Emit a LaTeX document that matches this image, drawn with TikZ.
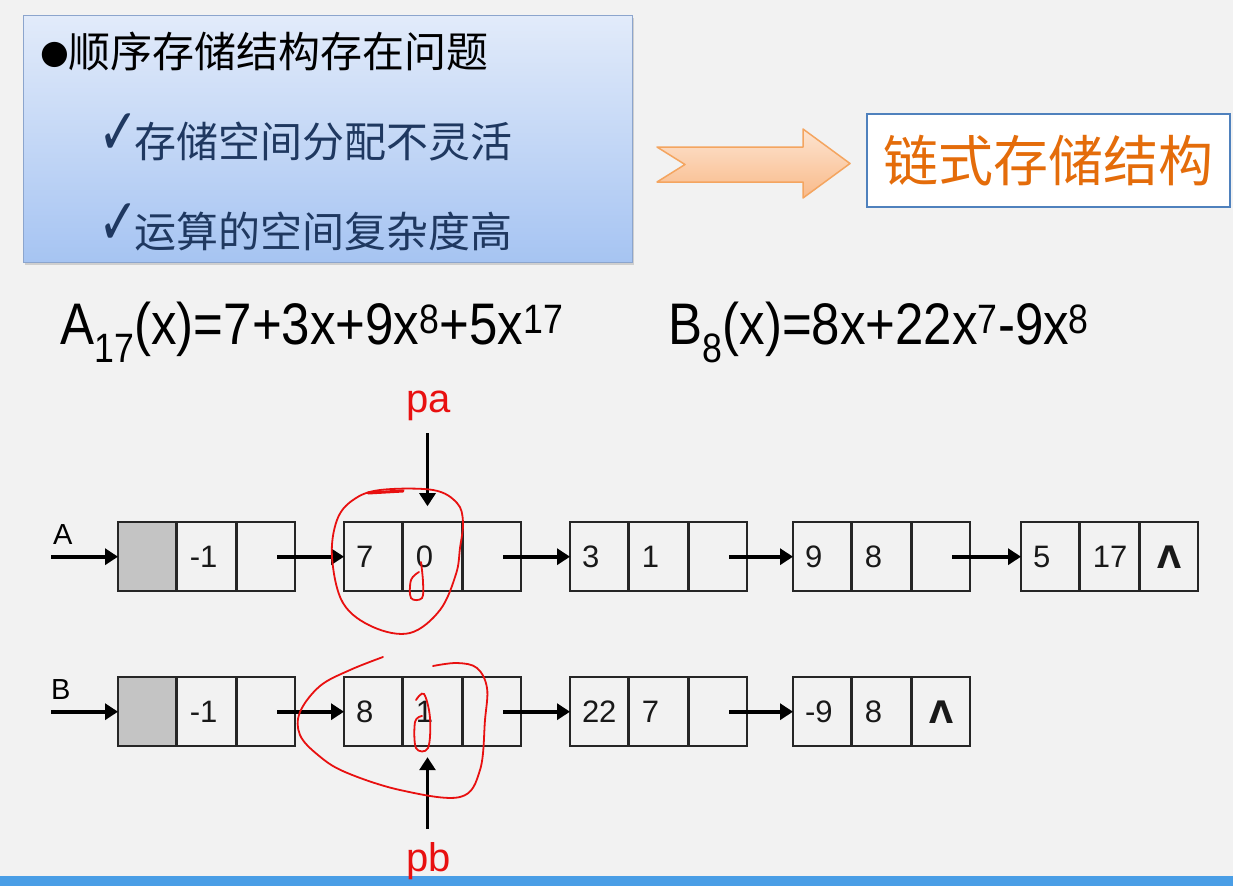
\documentclass[tikz,border=0pt]{standalone}
\usepackage{fontspec}
\setmainfont{Liberation Sans}
\newfontfamily\cjk{Noto Sans CJK SC}
\newfontfamily\sym{DejaVu Sans}
\usetikzlibrary{positioning, shapes.multipart, arrows.meta, shadows}
\tikzset{>={Triangle[length=13pt,width=16pt]}}

\definecolor{bgc}{RGB}{242,242,242}
\definecolor{boxtop}{RGB}{226,235,250}
\definecolor{boxbot}{RGB}{166,196,242}
\definecolor{boxline}{RGB}{140,165,205}
\definecolor{navy}{RGB}{31,56,96}
\definecolor{arrtop}{RGB}{253,228,208}
\definecolor{arrbot}{RGB}{249,186,138}
\definecolor{arrline}{RGB}{244,165,96}
\definecolor{orangetxt}{RGB}{228,108,10}
\definecolor{chainline}{RGB}{79,129,189}
\definecolor{headgray}{RGB}{196,196,196}
\definecolor{barblue}{RGB}{74,158,230}
\definecolor{penred}{RGB}{232,16,16}

\newcommand{\cellfont}{\fontsize{31}{34}\selectfont}
\newcommand{\cel}[1]{\makebox[57.4pt][l]{\hspace{12pt}\cellfont #1}}
\newcommand{\nil}{\makebox[57.4pt][c]{\sym\bfseries\fontsize{31}{34}\selectfont Λ}}
\newcommand{\tick}{\makebox[36pt][l]{\sym\fontsize{37}{40}\selectfont\raisebox{3pt}{\scalebox{1.3}[1.75]{✓}}}}
\newcommand{\dotmark}{\makebox[28pt][l]{\sym\fontsize{33}{36}\selectfont\raisebox{4pt}{●}}}

\begin{document}
\begin{tikzpicture}[x=1pt, y=-1pt,
    lnode/.style={rectangle split, rectangle split horizontal, rectangle split parts=3,
      draw=black!85, line width=2.4pt, minimum height=69pt,
      inner xsep=0pt, inner ysep=0pt, outer sep=0pt, text=black!90},
    headnode/.style={rectangle split part fill={headgray,bgc,bgc}},
    link/.style={->, line width=4.2pt},
    ptr/.style={->, line width=3pt},
    ptrlabel/.style={text=penred, inner sep=0pt, font=\fontsize{40}{44}\selectfont},
    listlabel/.style={inner sep=0pt, font=\fontsize{29}{32}\selectfont},
    redpen/.style={draw=penred, line width=1.8pt, line cap=round},
    infobox/.style={draw=boxline, line width=1pt, top color=boxtop, bottom color=boxbot,
      minimum width=609pt, minimum height=247pt,
      drop shadow={shadow xshift=1.5pt, shadow yshift=-2.5pt, opacity=0.3}},
    chainbox/.style={draw=chainline, line width=2.5pt, fill=white, text=orangetxt,
      minimum width=363pt, minimum height=93pt, inner sep=0pt,
      font=\cjk\fontsize{55}{60}\selectfont},
    formula/.style={inner sep=0pt, font=\fontsize{51}{60}\selectfont},
    qline/.style={anchor=west, inner sep=0pt, font=\fontsize{42}{48}\selectfont}]

    \fill[bgc] (0,0) rectangle (1233,886);
    \useasboundingbox (0,0) rectangle (1233,886);
    \fill[barblue] (0,876) rectangle (1233,886);

    % problem box
    \node[infobox] (issues) at (327.5,138.5) {};
    \node[qline] (q1) at (40,52) {\dotmark\cjk 顺序存储结构存在问题};
    \node[qline, text=navy] (q2) at (98,137) {\tick\cjk 存储空间分配不灵活};
    \node[qline, text=navy] (q3) at (98,227) {\tick\cjk 运算的空间复杂度高};

    \draw[draw=arrline, line width=1.5pt, top color=arrtop, bottom color=arrbot, line join=round]
      (657,147) -- (803,147) -- (803,129) -- (850,163.5) -- (803,198) -- (803,182) -- (657,182) -- (685,164.5) -- cycle;
    \node[chainbox] (chain) at (1048.5,160.5) {链式存储结构};

    % polynomials
    \node[formula, anchor=base west] (fa) at (60,344) {\scalebox{1}[1.15]{A\textsubscript{17}(x)=7+3x+9x\textsuperscript{8}+5x\textsuperscript{17}}};
    \node[formula, anchor=base west] (fb) at (668,344) {\scalebox{1}[1.15]{B\textsubscript{8}(x)=8x+22x\textsuperscript{7}-9x\textsuperscript{8}}};

    % list A
    \node[lnode, headnode, anchor=west] (a0) at (118,556.7) {\cel{}\nodepart{two}\cel{-1}\nodepart{three}\cel{}};
    \node[lnode, right=49pt of a0] (a1) {\cel{7}\nodepart{two}\cel{0}\nodepart{three}\cel{}};
    \node[lnode, right=49pt of a1] (a2) {\cel{3}\nodepart{two}\cel{1}\nodepart{three}\cel{}};
    \node[lnode, right=46pt of a2] (a3) {\cel{9}\nodepart{two}\cel{8}\nodepart{three}\cel{}};
    \node[lnode, right=51pt of a3] (a4) {\cel{5}\nodepart{two}\cel{17}\nodepart{three}\nil};

    % list B
    \node[lnode, headnode, below=86pt of a0] (b0) {\cel{}\nodepart{two}\cel{-1}\nodepart{three}\cel{}};
    \node[lnode, right=49pt of b0] (b1) {\cel{8}\nodepart{two}\cel{1}\nodepart{three}\cel{}};
    \node[lnode, right=49pt of b1] (b2) {\cel{22}\nodepart{two}\cel{7}\nodepart{three}\cel{}};
    \node[lnode, right=46pt of b2] (b3) {\cel{-9}\nodepart{two}\cel{8}\nodepart{three}\nil};

    \foreach \u/\v in {a0/a1,a1/a2,a2/a3,a3/a4,b0/b1,b1/b2,b2/b3}
      \draw[link] ([xshift=-18pt]\u.east) -- (\v.west);

    \coordinate[left=67pt of a0.west] (ina);
    \coordinate[left=67pt of b0.west] (inb);
    \node[listlabel, anchor=south west, above right=12pt and 2pt of ina] (la) {A};
    \node[listlabel, anchor=south west, above right=12pt and 0pt of inb] (lb) {B};
    \draw[link] (ina) -- (a0.west);
    \draw[link] (inb) -- (b0.west);

    % pointers
    \node[ptrlabel, above=101pt of a1.north, xshift=-4pt] (pa) {pa};
    \node[ptrlabel, below=96pt of b1.south, xshift=-4pt] (pb) {pb};
    \draw[ptr] ([yshift=-12pt, xshift=-1pt]pa.south) -- ([yshift=16pt, xshift=-5pt]a1.north);
    \draw[ptr] ([yshift=13pt, xshift=-1pt]pb.north) -- ([yshift=-11pt, xshift=-5pt]b1.south);

    % hand marks
    \draw[redpen] plot[smooth cycle, tension=0.6] coordinates {(380,490) (433,490) (457,503) (463,522)
      (460,548) (456,574) (440,610) (410,633) (373,627) (343,603) (332,557) (337,520) (353,500)};
    \draw[redpen, line width=3pt] (368,493) -- (403,491);
    \draw[redpen] plot[smooth, tension=0.6] coordinates {(421,562) (423,582) (422,598) (411,598) (411,580) (419,572)};
    \draw[redpen] plot[smooth, tension=0.6] coordinates {(383,657) (350,670) (320,686) (300,712) (300,735)
      (318,755) (345,772) (400,790) (460,797) (480,770) (485,720) (487,688) (477,668) (457,663) (433,666)};
    \draw[redpen] plot[smooth, tension=0.6] coordinates {(416,700) (424,694) (430,718) (428,748) (416,748) (415,722) (422,716)};
\end{tikzpicture}
\end{document}
